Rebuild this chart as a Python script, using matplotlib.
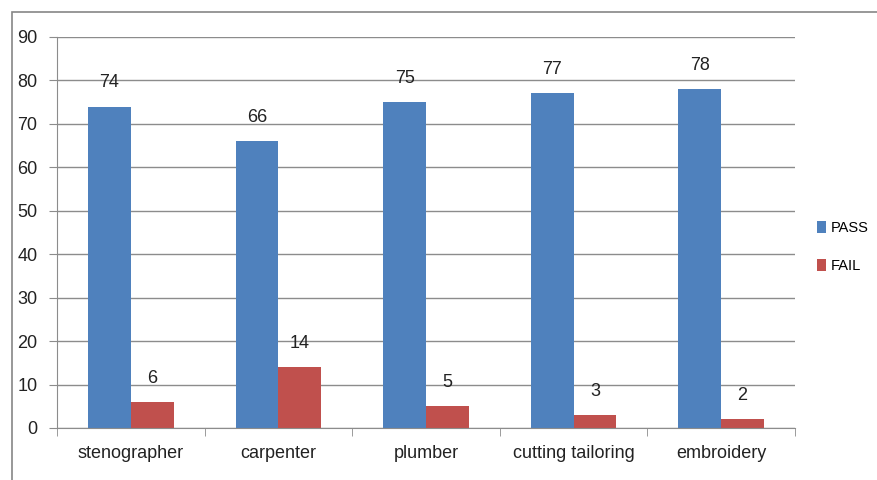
import matplotlib
matplotlib.use("Agg")
from matplotlib import pyplot as plt
from matplotlib.patches import Rectangle
import numpy as np

categories = ["stenographer", "carpenter", "plumber", "cutting tailoring", "embroidery"]
pass_vals = [74, 66, 75, 77, 78]
fail_vals = [6, 14, 5, 3, 2]
yticks = [0, 10, 20, 30, 40, 50, 60, 70, 80, 90]

plt.rcParams['font.family'] = ['Liberation Sans Narrow', 'Liberation Sans', 'DejaVu Sans']

fig = plt.figure(figsize=(8.77, 4.8), dpi=100)
# outer chart frame
fig.patches.append(Rectangle((12/877, -0.1), 1.2, (480-12)/480 + 0.1, transform=fig.transFigure,
                             fill=False, edgecolor="#868686", linewidth=1.2))
ax = fig.add_axes([57/877, 52/480, 738/877, 391/480])

x = np.arange(len(categories))
w = 0.29
b1 = ax.bar(x - w/2, pass_vals, w, color="#4F81BD", label="PASS")
b2 = ax.bar(x + w/2, fail_vals, w, color="#C0504D", label="FAIL")

for bars in (b1, b2):
    for r in bars:
        ax.annotate(str(int(r.get_height())), (r.get_x() + r.get_width()/2, r.get_height()),
                    xytext=(0, 17), textcoords="offset points", ha="center", va="center",
                    fontsize=13, color="#222222")

ax.set_xlim(-0.5, len(categories) - 0.5)
ax.set_ylim(0, 90)
ax.set_yticks(yticks)
ax.yaxis.grid(True, color="#8c8c8c", linewidth=1)
ax.set_axisbelow(True)

ax.set_xticks(x)
ax.set_xticklabels(categories, fontsize=13, color="#222222")
ax.set_xticks(np.arange(len(categories) + 1) - 0.5, minor=True)
ax.tick_params(axis="x", which="major", length=0, pad=12)
ax.tick_params(axis="x", which="minor", length=6, color="#8c8c8c", direction="out")
ax.tick_params(axis="y", length=6, color="#8c8c8c", labelsize=13, labelcolor="#222222", pad=8)

for s in ("top", "right"):
    ax.spines[s].set_visible(False)
for s in ("left", "bottom"):
    ax.spines[s].set_color("#8c8c8c")

ax.legend(loc="center left", bbox_to_anchor=(1.03, 0.463), frameon=False, fontsize=10.5,
          handlelength=0.6, handleheight=0.9, handletextpad=0.35, labelspacing=1.6,
          borderpad=0, borderaxespad=0)

fig.savefig("out.png", dpi=100)
